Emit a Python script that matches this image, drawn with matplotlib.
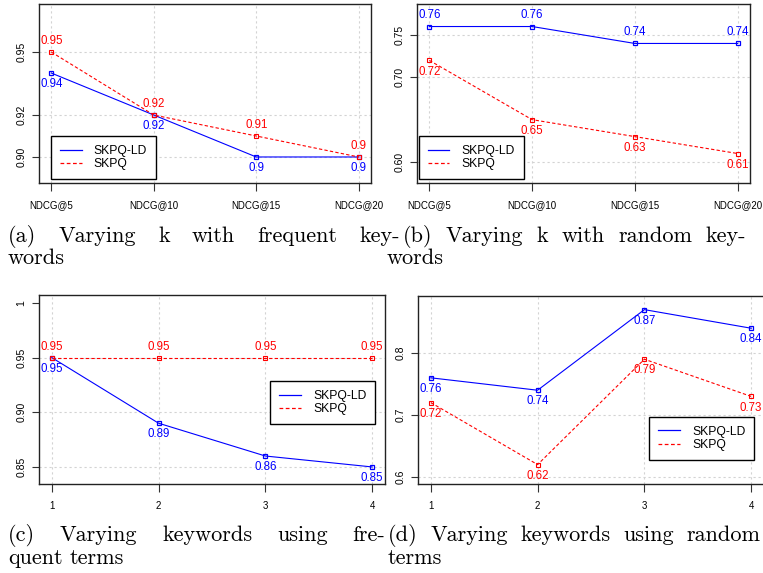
import matplotlib
matplotlib.use("Agg")
import matplotlib.pyplot as plt
from matplotlib.lines import Line2D

W, H = 763, 573
DPI = 100

# ---------------- data ----------------
ndcg_labels = ["NDCG@5", "NDCG@10", "NDCG@15", "NDCG@20"]
kw_labels = ["1", "2", "3", "4"]

a_ld = [0.94, 0.92, 0.90, 0.90]
a_pq = [0.95, 0.92, 0.91, 0.90]
b_ld = [0.76, 0.76, 0.74, 0.74]
b_pq = [0.72, 0.65, 0.63, 0.61]
c_ld = [0.95, 0.89, 0.86, 0.85]
c_pq = [0.95, 0.95, 0.95, 0.95]
d_ld = [0.76, 0.74, 0.87, 0.84]
d_pq = [0.72, 0.62, 0.79, 0.73]

a_yticks = [0.90, 0.92, 0.95]
a_ylabels = ["0.90", "0.92", "0.95"]
b_yticks = [0.60, 0.70, 0.75]
b_ylabels = ["0.60", "0.70", "0.75"]
c_yticks = [0.85, 0.90, 0.95, 1.0]
c_ylabels = ["0.85", "0.90", "0.95", "1"]
d_yticks = [0.6, 0.7, 0.8]
d_ylabels = ["0.6", "0.7", "0.8"]

captions = {
    "a": (["(a)", "Varying", "k", "with", "frequent", "key-"], ["words"]),
    "b": (["(b)", "Varying", "k", "with", "random", "key-"], ["words"]),
    "c": (["(c)", "Varying", "keywords", "using", "fre-"], ["quent", "terms"]),
    "d": (["(d)", "Varying", "keywords", "using", "random"], ["terms"]),
}

BLUE = "#0000FF"
RED = "#FF0000"
SANS = ["Liberation Sans", "DejaVu Sans"]
plt.rcParams["font.family"] = SANS

fig = plt.figure(figsize=(W / DPI, H / DPI), dpi=DPI)


def add_ax(left, top, right, bottom):
    return fig.add_axes([left / W, 1 - bottom / H, (right - left) / W, (bottom - top) / H])


def panel(ax, ld, pq, ylim, yticks, ylabels, xlabels, ld_above, pq_above,
          leg_anchor, grid_y):
    x = [1, 2, 3, 4]
    ax.set_xlim(0.88, 4.12)
    ax.set_ylim(*ylim)
    for gx in x:
        ax.axvline(gx, color="#d3d3d3", lw=0.8, ls=(0, (2, 2.5)), zorder=0)
    for gy in grid_y:
        ax.axhline(gy, color="#d3d3d3", lw=0.8, ls=(0, (2, 2.5)), zorder=0)
    ax.plot(x, ld, color=BLUE, lw=0.8, marker="s", ms=3.2, mfc="none",
            mew=0.9, zorder=3)
    ax.plot(x, pq, color=RED, lw=0.8, ls=(0, (3, 2)), marker="s", ms=3.2,
            mfc="none", mew=0.8, zorder=3)
    for xi, v in zip(x, ld):
        ax.annotate(f"{v:g}", (xi, v), xytext=(0, 8 if ld_above else -8),
                    textcoords="offset points", ha="center", va="center",
                    color=BLUE, fontsize=8.3)
    for xi, v in zip(x, pq):
        ax.annotate(f"{v:g}", (xi, v), xytext=(0, 8 if pq_above else -8),
                    textcoords="offset points", ha="center", va="center",
                    color=RED, fontsize=8.3)
    ax.set_xticks(x)
    ax.set_xticklabels(xlabels, fontsize=7)
    ax.set_yticks(yticks)
    ax.set_yticklabels(ylabels, fontsize=7.5)
    for lab in ax.get_yticklabels():
        lab.set_rotation(90)
        lab.set_va("center")
    ax.tick_params(axis="x", length=6, width=0.8, pad=6, color="#333333")
    ax.tick_params(axis="y", length=5, width=0.8, pad=4, color="#333333")
    for s in ax.spines.values():
        s.set_linewidth(1.0)
        s.set_color("#222222")
    handles = [Line2D([], [], color=BLUE, lw=0.9),
               Line2D([], [], color=RED, lw=0.9, ls=(0, (3, 2)))]
    leg = ax.legend(handles, ["SKPQ-LD", "SKPQ"], loc="lower left",
                    bbox_to_anchor=leg_anchor, borderaxespad=0,
                    fontsize=8.7, frameon=True, fancybox=False, handlelength=1.8,
                    handletextpad=1.0, borderpad=0.75, labelspacing=0.1)
    leg.get_frame().set_edgecolor("black")
    leg.get_frame().set_linewidth(1.0)
    leg.get_frame().set_alpha(1)


ax_a = add_ax(39, 4, 371, 183)
panel(ax_a, a_ld, a_pq, (0.8876, 0.9729), a_yticks, a_ylabels, ndcg_labels,
      False, True, (0.036, 0.02), a_yticks)

ax_b = add_ax(417, 4, 750, 183)
panel(ax_b, b_ld, b_pq, (0.5752, 0.7866), b_yticks, b_ylabels, ndcg_labels,
      True, False, (0.005, 0.02), b_yticks)

ax_c = add_ax(39, 295, 385, 484)
panel(ax_c, c_ld, c_pq, (0.8344, 1.0073), c_yticks, c_ylabels, kw_labels,
      False, True, (0.668, 0.317), [0.85, 0.90, 0.95])

ax_d = add_ax(418, 296, 764, 484)
panel(ax_d, d_ld, d_pq, (0.5887, 0.892), d_yticks, d_ylabels, kw_labels,
      False, False, (0.668, 0.128), d_yticks)

# ---------------- captions (justified) ----------------
CAP_FONT = ["cmr10", "DejaVu Serif"]
CAP_SIZE = 16
renderer = fig.canvas.get_renderer()


def put_line(words, x0, x1, y, justify=True):
    texts = [fig.text(0, 1 - y / H, w, fontsize=CAP_SIZE, family=CAP_FONT,
                      va="baseline", ha="left") for w in words]
    widths = [t.get_window_extent(renderer).width for t in texts]
    if justify and len(words) > 1:
        gap = (x1 - x0 - sum(widths)) / (len(words) - 1)
    else:
        gap = CAP_SIZE * DPI / 72 * 0.333
    xx = x0
    for t, w in zip(texts, widths):
        t.set_x(xx / W)
        xx += w + gap


put_line(captions["a"][0], 8, 400, 242)
put_line(captions["a"][1], 8, 400, 264, justify=False)
put_line(captions["b"][0], 403, 746, 242)
put_line(captions["b"][1], 387, 746, 264, justify=False)
put_line(captions["c"][0], 8, 385, 541)
put_line(captions["c"][1], 8, 385, 564, justify=False)
put_line(captions["d"][0], 388, 760, 541)
put_line(captions["d"][1], 388, 760, 564, justify=False)

fig.savefig("out.png", dpi=DPI)
